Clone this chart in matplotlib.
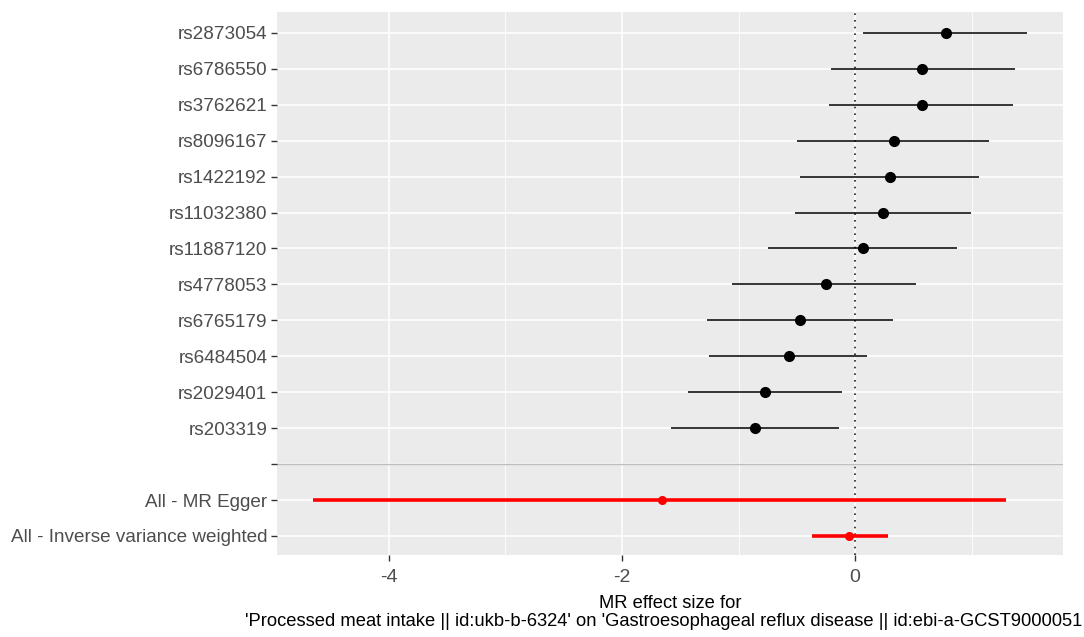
import matplotlib
matplotlib.use("Agg")
import matplotlib.pyplot as plt
import numpy as np

plt.rcParams['font.family'] = ['Liberation Sans', 'DejaVu Sans']

snps = ["rs2873054", "rs6786550", "rs3762621", "rs8096167", "rs1422192",
        "rs11032380", "rs11887120", "rs4778053", "rs6765179", "rs6484504",
        "rs2029401", "rs203319"]
snp_b = [0.78, 0.575, 0.575, 0.335, 0.30, 0.24, 0.07, -0.25, -0.47, -0.57, -0.77, -0.86]
snp_lo = [0.07, -0.21, -0.225, -0.50, -0.47, -0.515, -0.75, -1.06, -1.27, -1.25, -1.43, -1.58]
snp_hi = [1.48, 1.37, 1.36, 1.15, 1.06, 0.995, 0.875, 0.52, 0.33, 0.10, -0.11, -0.14]

methods = ["All - MR Egger", "All - Inverse variance weighted"]
meth_b = [-1.66, -0.05]
meth_lo = [-4.65, -0.37]
meth_hi = [1.30, 0.28]

labels = snps + [""] + methods
xticks = [-4, -2, 0]
xlabel_line1 = "MR effect size for"
xlabel_line2 = ("'Processed meat intake || id:ukb-b-6324' on "
                "'Gastroesophageal reflux disease || id:ebi-a-GCST9000051")

fig = plt.figure(figsize=(10.84, 6.37), dpi=100)
ax = fig.add_axes([277/1084, 1-555/637, (1063-277)/1084, (555-12)/637])
ax.set_facecolor("#EBEBEB")
for s in ax.spines.values():
    s.set_visible(False)

ypos = np.arange(len(labels))
snp_y = ypos[:len(snps)]
blank_y = len(snps)
meth_y = ypos[len(snps)+1:]

# grid
for v in [-5, -3, -1, 1]:
    ax.axvline(v, color="white", lw=0.6, zorder=0)
for v in xticks:
    ax.axvline(v, color="white", lw=1.1, zorder=0)
for y in ypos:
    ax.axhline(y, color="white", lw=1.1, zorder=0)

ax.axhline(blank_y, color="#BEBEBE", lw=1.0, zorder=1)
ax.axvline(0, color="#222222", lw=1.2, ls=(0, (1, 3)), zorder=2)

ax.hlines(snp_y, snp_lo, snp_hi, color="black", lw=1.1, zorder=3)
ax.plot(snp_b, snp_y, "o", color="black", ms=7, zorder=4)
ax.hlines(meth_y, meth_lo, meth_hi, color="red", lw=2.6, zorder=3)
ax.plot(meth_b, meth_y, "o", color="red", ms=5.5, zorder=4)

ax.set_xlim(-4.961, 1.785)
ax.set_ylim(14.53, -0.58)
ax.set_yticks(ypos)
ax.set_yticklabels(labels)
ax.set_xticks(xticks)
ax.set_xticklabels([str(t) for t in xticks])
ax.tick_params(axis="both", colors="#333333", length=4, width=1.0,
               labelsize=13.6, labelcolor="#4D4D4D", pad=3)
ax.tick_params(axis="x", labelsize=14, pad=6)

fig.text(670/1084, 1-603/637, xlabel_line1, ha="center", va="center",
         fontsize=13.2, color="black")
fig.text(1082/1084, 1-621/637, xlabel_line2, ha="right", va="center",
         fontsize=13.2, color="black")

fig.savefig("out.png", dpi=100)
